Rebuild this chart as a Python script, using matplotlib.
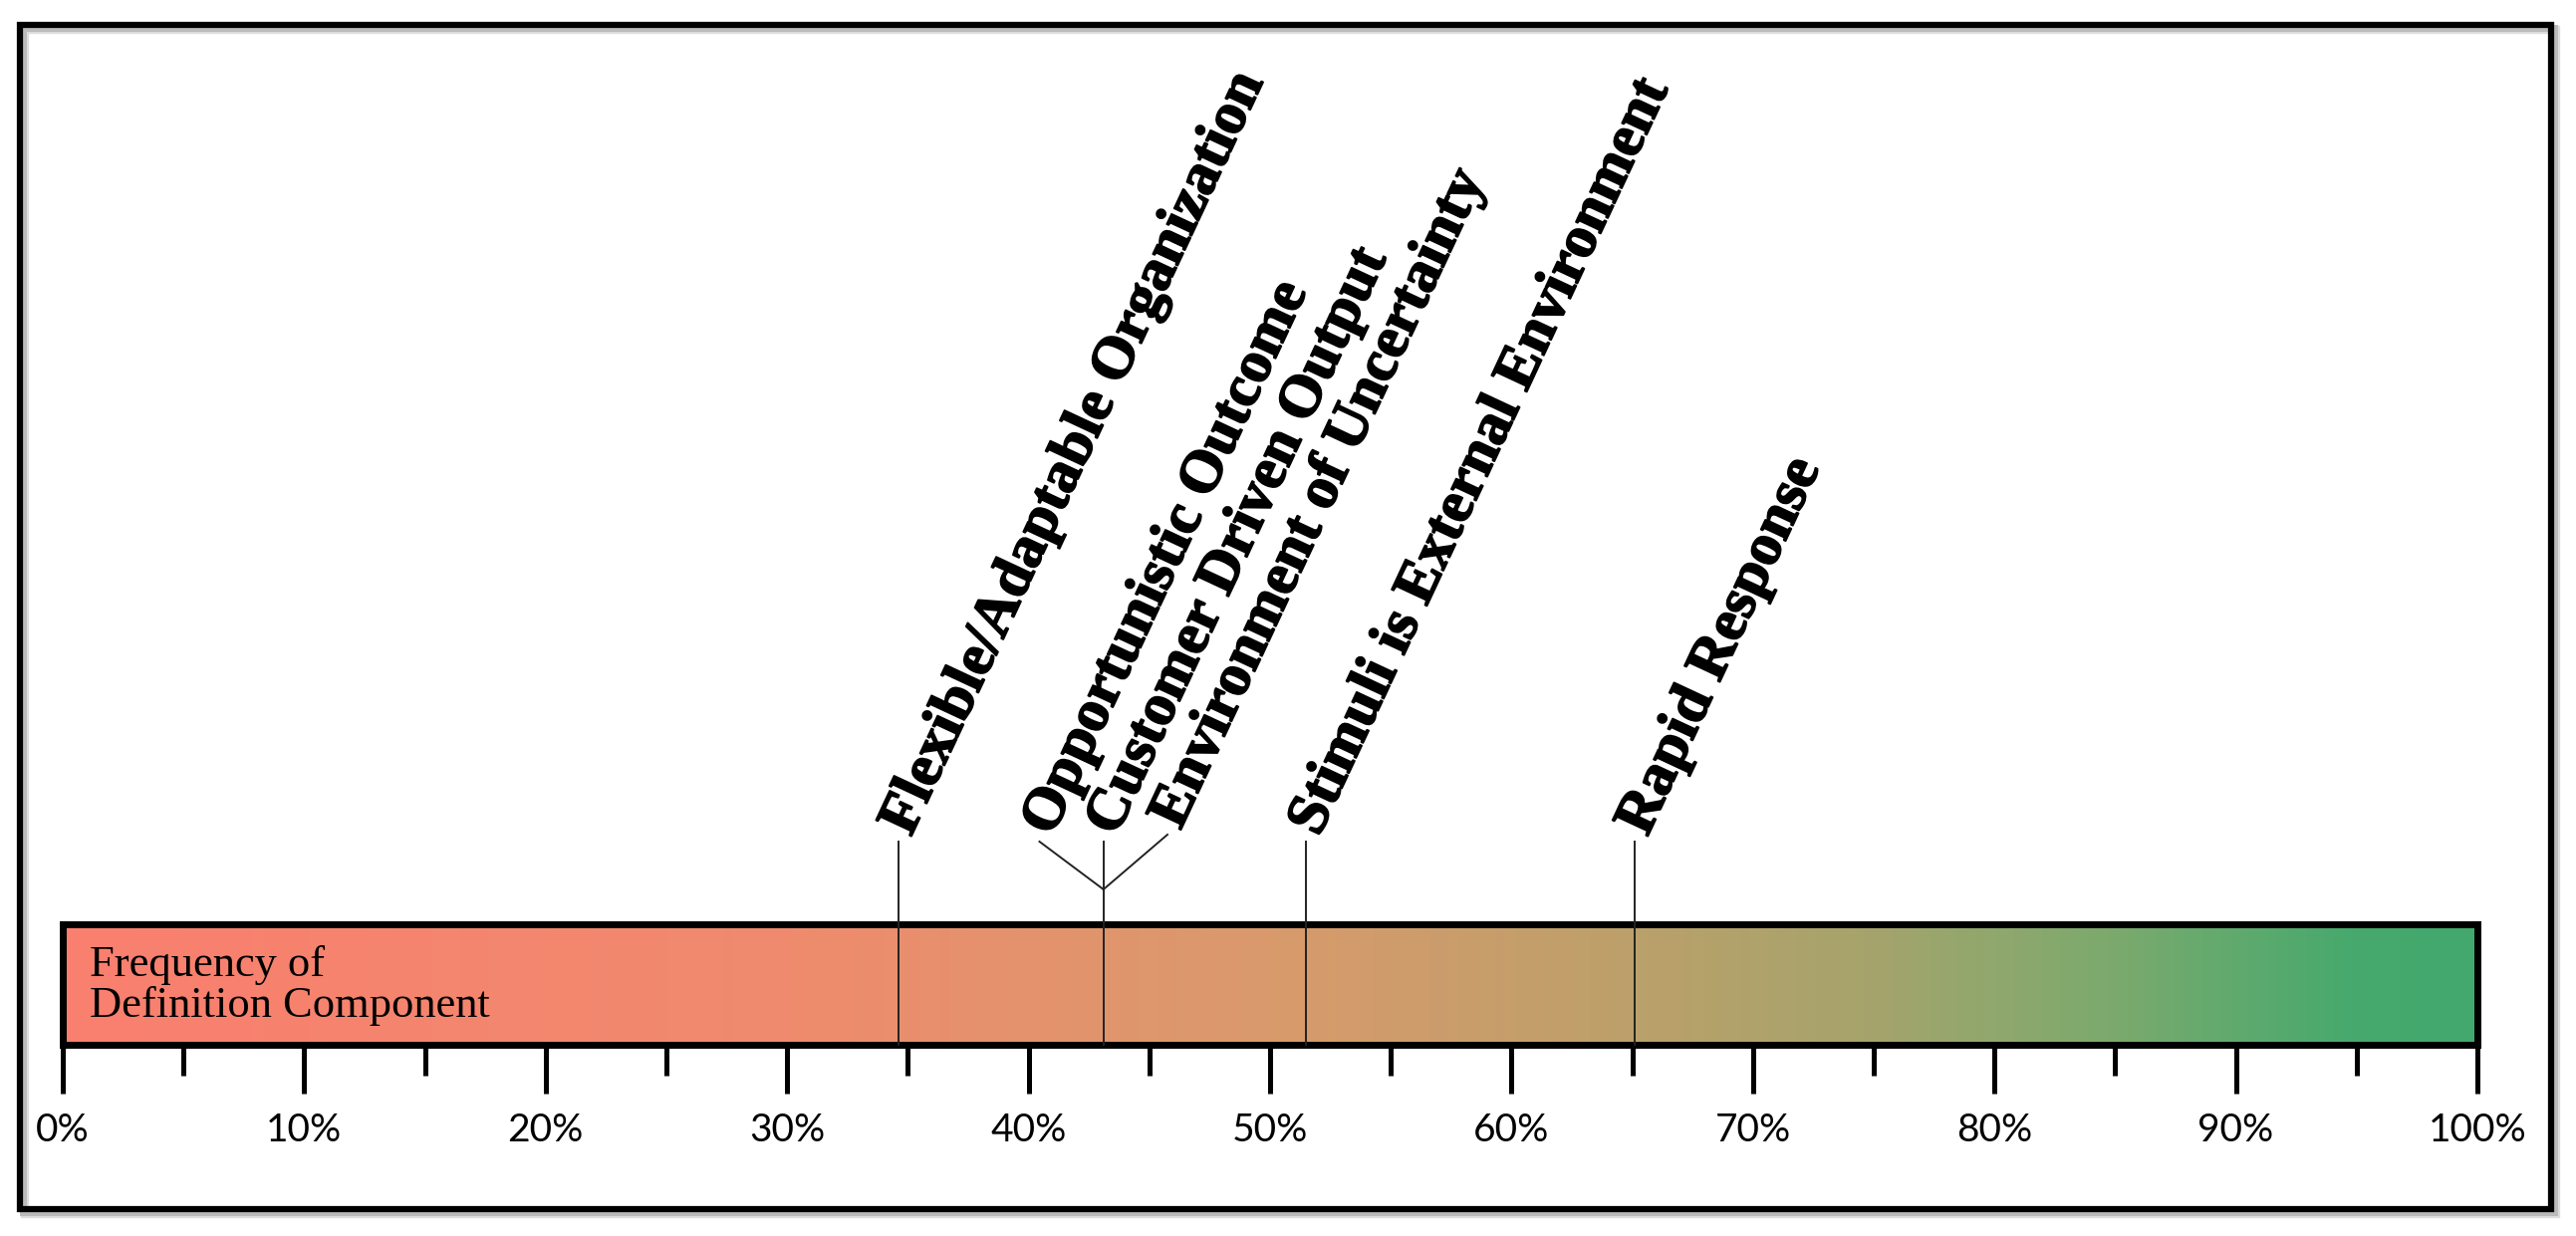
import numpy as np
import matplotlib.pyplot as plt
from matplotlib.colors import LinearSegmentedColormap
from matplotlib.patches import Rectangle
from matplotlib import transforms
import matplotlib.patheffects as pe

# data
component_names = ["Flexible/Adaptable Organization",
                   "Opportunistic Outcome",
                   "Customer Driven Output",
                   "Environment of Uncertainty",
                   "Stimuli is External Environment",
                   "Rapid Response"]
component_freq = [34.6, 43.1, 43.1, 43.1, 51.5, 65.1]
tick_values = [0, 10, 20, 30, 40, 50, 60, 70, 80, 90, 100]
tick_labels = ["0%", "10%", "20%", "30%", "40%", "50%", "60%", "70%", "80%", "90%", "100%"]
bar_title = "Frequency of\nDefinition Component"

# figure in pixel terms
W, H = 2586, 1241
fig = plt.figure(figsize=(W / 100, H / 100), dpi=100)


def fx(px):
    return px / W


def fy(py):
    return 1 - py / H


# outer frame with a soft shadow (just a gray offset outline)
for off, col, lw in [(5, "#dddddd", 6), (3, "#bbbbbb", 5)]:
    fig.add_artist(Rectangle((fx(20 + off), fy(1214 + off)), fx(2561) - fx(20), fy(25) - fy(1214),
                             transform=fig.transFigure, fill=False, lw=lw, ec=col))
fig.add_artist(Rectangle((fx(20), fy(1214)), fx(2561) - fx(20), fy(25) - fy(1214),
                         transform=fig.transFigure, fill=False, lw=4.5, ec="black"))

# gradient bar
bar_left, bar_right, bar_top, bar_bot = 63, 2487, 928, 1049
ax = fig.add_axes([fx(bar_left), fy(bar_bot), fx(bar_right) - fx(bar_left), (bar_bot - bar_top) / H])
cmap = LinearSegmentedColormap.from_list("freq", [
    (0.0, "#fa7f6f"), (0.3, "#ef8b6e"), (0.5, "#d99a6c"), (0.65, "#bca06a"),
    (0.75, "#a5a46c"), (0.85, "#7caa6e"), (0.95, "#47a96d"), (1.0, "#42a86d")])
grad = np.linspace(0, 1, 600).reshape(1, -1)
ax.imshow(grad, cmap=cmap, aspect="auto", extent=(0, 100, 0, 1), interpolation="bilinear")
ax.set_xlim(0, 100)
ax.set_ylim(0, 1)
for s in ax.spines.values():
    s.set_linewidth(5)
ax.set_yticks([])
ax.set_xticks(tick_values)
ax.set_xticklabels(tick_labels, family=["Lato", "DejaVu Sans"], fontsize=28)
ax.set_xticks(np.arange(5, 100, 10), minor=True)
ax.tick_params(axis="x", which="major", length=35, width=3.6, pad=14)
ax.tick_params(axis="x", which="minor", length=22, width=3.6)

ax.text(1.1, 0.49, bar_title, transform=ax.transData, ha="left", va="center",
        family=["Liberation Serif"], fontsize=32, linespacing=1.05)

# lines and rotated labels above the bar
trans = transforms.blended_transform_factory(ax.transData, fig.transFigure)
line_top = 845
heavy = [pe.withStroke(linewidth=1.3, foreground="black")]
done = set()
for i, (name, f) in enumerate(zip(component_names, component_freq)):
    group = [j for j, v in enumerate(component_freq) if v == f]
    k = group.index(i)
    n = len(group)
    if f not in done:
        ax.plot([f, f], [fy(bar_bot), fy(line_top)], transform=trans, clip_on=False,
                color="#222222", lw=1.4, zorder=5)
        done.add(f)
    off = (k - (n - 1) / 2) * 2.65
    tx = f + off
    ty = line_top
    if n > 1 and off != 0:
        ty = line_top if off < 0 else line_top - 7
        ax.plot([f, tx], [fy(893), fy(ty)], transform=trans, clip_on=False,
                color="#222222", lw=1.4, zorder=5)
    ax.text(tx, fy(ty - 10), name, transform=trans, rotation=65, rotation_mode="anchor",
            ha="left", va="center", family=["Liberation Serif"], fontweight="bold",
            fontsize=43, path_effects=heavy)

fig.savefig("out.png", dpi=100)
